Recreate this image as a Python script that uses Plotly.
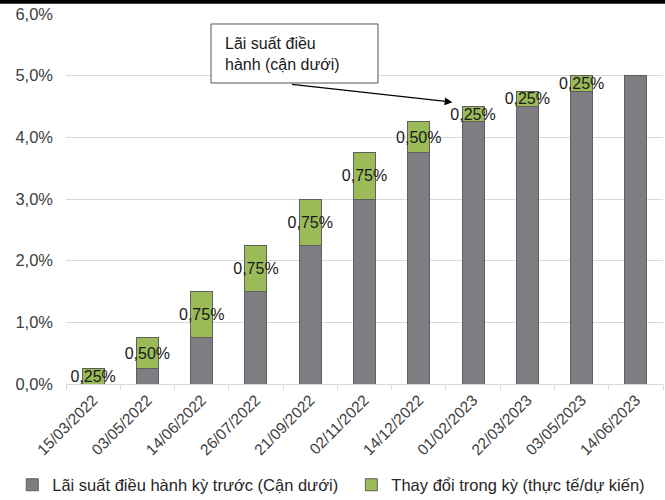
import plotly.graph_objects as go

# Policy rate path (lower bound), in percent
dates = ["15/03/2022", "03/05/2022", "14/06/2022", "26/07/2022", "21/09/2022",
         "02/11/2022", "14/12/2022", "01/02/2023", "22/03/2023", "03/05/2023",
         "14/06/2023"]
prior_rate = [0.00, 0.25, 0.75, 1.50, 2.25, 3.00, 3.75, 4.25, 4.50, 4.75, 5.00]
rate_change = [0.25, 0.50, 0.75, 0.75, 0.75, 0.75, 0.50, 0.25, 0.25, 0.25, 0.00]

name_prior = "Lãi suất điều hành kỳ trước (Cận dưới)"
name_change = "Thay đổi trong kỳ (thực tế/dự kiến)"
callout_text = "Lãi suất điều<br>hành (cận dưới)"

FONT = "Liberation Sans, Arial, sans-serif"
GRAY = "#7e7e82"
GREEN = "#9bbb59"
EDGE = "#5f5f5f"

change_labels = [(f"{v:.2f}%".replace(".", ",") if v > 0 else "") for v in rate_change]

fig = go.Figure()
fig.add_trace(go.Bar(
    x=dates, y=prior_rate, name=name_prior, legend="legend",
    marker=dict(color=GRAY, line=dict(color=EDGE, width=1)),
))
fig.add_trace(go.Bar(
    x=dates, y=rate_change, name=name_change, legend="legend2",
    marker=dict(color=GREEN, line=dict(color=EDGE, width=1)),
    text=change_labels, textposition="inside", insidetextanchor="middle",
    textangle=0, constraintext="none", cliponaxis=False,
    textfont=dict(family=FONT, size=16, color="#1a1a1a"),
))

legend_style = dict(orientation="h", y=-0.273, xanchor="left", yanchor="middle",
                    bgcolor="rgba(0,0,0,0)", itemwidth=30,
                    font=dict(family=FONT, size=16.5, color="#262626"))

fig.update_layout(
    width=665, height=500,
    margin=dict(l=66, r=2, t=14, b=116, autoexpand=False),
    barmode="stack", bargap=0.595,
    separators=",.",
    paper_bgcolor="white", plot_bgcolor="white",
    font=dict(family=FONT, size=14, color="#404040"),
    showlegend=True,
    legend=dict(x=-0.09, **legend_style),
    legend2=dict(x=0.478, **legend_style),
    xaxis=dict(type="category", tickangle=-45, showgrid=False,
               showline=True, linecolor="#d9d9d9", linewidth=1,
               ticks="outside", tickson="boundaries", ticklen=5, tickcolor="#d9d9d9",
               tickfont=dict(family=FONT, size=15.5, color="#404040")),
    yaxis=dict(range=[0, 6], dtick=1, tickformat=".1f", ticksuffix="%",
               showgrid=True, gridcolor="#d9d9d9", gridwidth=1,
               zeroline=False, ticks="", ticklabelstandoff=12,
               tickfont=dict(family=FONT, size=16.5, color="#404040")),
    shapes=[
        dict(type="line", xref="paper", yref="paper",
             x0=-0.12, x1=1.01, y0=1.033, y1=1.033,
             line=dict(color="black", width=4)),
        # callout frame
        dict(type="rect", xref="paper", yref="paper",
             x0=0.2429, x1=0.5226, y0=0.8135, y1=0.973,
             line=dict(color="#555555", width=1), fillcolor="white", layer="above"),
    ],
    annotations=[
        dict(xref="paper", yref="paper", x=0.2630, y=0.8932,
             xanchor="left", yanchor="middle", showarrow=False,
             text=callout_text, align="left",
             font=dict(family=FONT, size=16, color="#1a1a1a")),
        dict(xref="x", yref="y", x=6.62, y=4.57, text="",
             showarrow=True, arrowhead=2, arrowsize=1.2, arrowwidth=1.3,
             arrowcolor="black", ax=-162, ay=-18, standoff=0),
    ],
)

fig.write_html("out.html")
